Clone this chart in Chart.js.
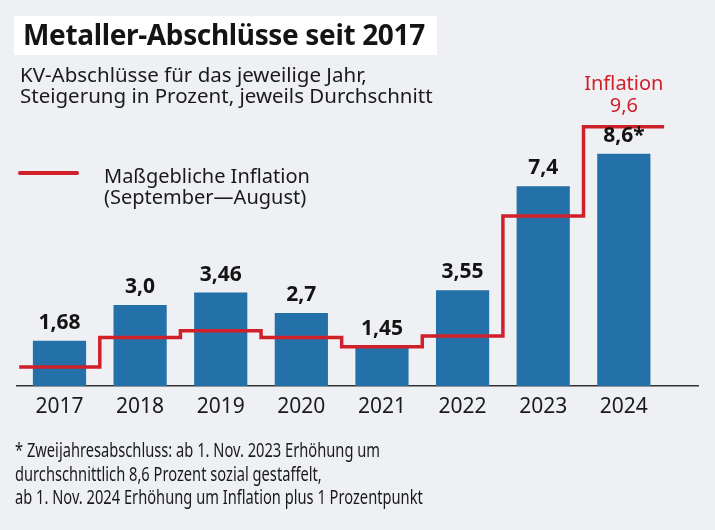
<!DOCTYPE html>
<html>
<head>
<meta charset="utf-8">
<script src="https://cdn.jsdelivr.net/npm/chart.js@4"></script>
<style>
  html, body { margin:0; padding:0; background:#eef0f4; }
  #wrap { position:relative; width:715px; height:530px; overflow:hidden; background:#eef0f4; font-family:"Noto Sans", sans-serif; color:#1a1a1a; }
  #c { position:absolute; left:0; top:0; }
  .abs { position:absolute; white-space:nowrap; }
  #titlebox { left:14px; top:16px; width:423px; height:39px; background:#fff; }
  #title { left:23px; top:15px; font-size:28px; font-weight:700; line-height:39px; letter-spacing:-0.35px; color:#141414; }
  #sub { left:20px; top:64px; font-size:20.5px; line-height:21px; color:#1a1a1a; }
  #legline { left:18px; top:171px; width:61px; height:4px; background:#d0202a; border-radius:2px; }
  #legtext { left:104px; top:165px; font-size:20px; line-height:21px; color:#1a1a1a; }
  #foot { left:15px; top:438px; font-size:19.5px; line-height:23.5px; color:#1a1a1a; transform-origin:0 0; }
  #foot span { display:inline-block; }
</style>
</head>
<body>
<div id="wrap">
  <canvas id="c" width="715" height="530"></canvas>
  <div class="abs" id="titlebox"></div>
  <div class="abs" id="title">Metaller-Abschlüsse seit 2017</div>
  <div class="abs" id="sub">KV-Abschlüsse für das jeweilige Jahr,<br>Steigerung in Prozent, jeweils Durchschnitt</div>
  <div class="abs" id="legline"></div>
  <div class="abs" id="legtext">Maßgebliche Inflation<br>(September—August)</div>
  <div class="abs" id="foot"><span id="f1">* Zweijahresabschluss: ab 1. Nov. 2023 Erhöhung um</span><br><span>durchschnittlich 8,6 Prozent sozial gestaffelt,</span><br><span>ab 1. Nov. 2024 Erhöhung um Inflation plus 1 Prozentpunkt</span></div>
</div>
<script>
const years = ['2017','2018','2019','2020','2021','2022','2023','2024'];
const settlements = [1.68, 3.0, 3.46, 2.7, 1.45, 3.55, 7.4, 8.6];
const settlementLabels = ['1,68','3,0','3,46','2,7','1,45','3,55','7,4','8,6*'];
const inflation = [0.7, 1.8, 2.05, 1.8, 1.45, 1.85, 6.3, 9.6];
const inflationLabel = ['Inflation', '9,6'];

const BLUE = '#2470a9';
const RED = '#d0202a';

const barData = settlements.map((v, i) => ({ x: i, y: v }));
const lineData = inflation.map((v, i) => ({ x: i - 0.5, y: v }));
lineData.push({ x: inflation.length - 0.5, y: inflation[inflation.length - 1] });

const labelPlugin = {
  id: 'labels',
  afterDatasetsDraw(chart) {
    const ctx = chart.ctx;
    const barMeta = chart.getDatasetMeta(1);
    ctx.save();
    ctx.textAlign = 'center';
    ctx.textBaseline = 'alphabetic';
    ctx.fillStyle = '#141414';
    ctx.font = '700 21px "Noto Sans"';
    barMeta.data.forEach((el, i) => {
      ctx.fillText(settlementLabels[i], el.x, el.y - 12);
    });
    const lineMeta = chart.getDatasetMeta(0);
    const pts = lineMeta.data;
    const a = pts[pts.length - 2], b = pts[pts.length - 1];
    const cx = (a.x + b.x) / 2;
    ctx.fillStyle = RED;
    ctx.font = '400 20px "Noto Sans"';
    ctx.fillText(inflationLabel[0], cx, a.y - 37);
    ctx.fillText(inflationLabel[1], cx, a.y - 15);
    ctx.restore();
  }
};

new Chart(document.getElementById('c'), {
  type: 'bar',
  data: {
    datasets: [
      {
        type: 'line',
        data: lineData,
        borderColor: RED,
        borderWidth: 3.5,
        stepped: 'before',
        pointRadius: 0,
        fill: false,
        order: 0,
        borderCapStyle: 'butt',
        borderJoinStyle: 'miter'
      },
      {
        type: 'bar',
        data: barData,
        backgroundColor: BLUE,
        borderWidth: 0,
        barPercentage: 0.66,
        categoryPercentage: 1,
        order: 1
      }
    ]
  },
  options: {
    responsive: false,
    animation: false,
    devicePixelRatio: 1,
    layout: { padding: { left: 17, right: 17, top: 116, bottom: 0 } },
    plugins: { legend: { display: false }, tooltip: { enabled: false }, title: { display: false } },
    scales: {
      x: {
        type: 'linear',
        offset: false,
        min: -0.527,
        max: 7.92,
        grid: { display: false, drawTicks: false, offset: false },
        border: { display: true, color: '#333', width: 1.5 },
        ticks: {
          stepSize: 1,
          includeBounds: false,
          autoSkip: false,
          maxRotation: 0,
          padding: 8,
          color: '#1a1a1a',
          font: { family: '"Noto Sans"', size: 21 },
          callback: (v) => (Number.isInteger(v) && years[v]) ? years[v] : ''
        },
        afterFit(s) { s.height = 144; }
      },
      y: {
        display: false,
        min: 0,
        max: 10
      }
    }
  },
  plugins: [labelPlugin]
});

// fit condensed footnote width
const f1 = document.getElementById('f1');
const w = f1.getBoundingClientRect().width;
document.getElementById('foot').style.transform = 'scaleX(' + (365 / w) + ')';
</script>
</body>
</html>
